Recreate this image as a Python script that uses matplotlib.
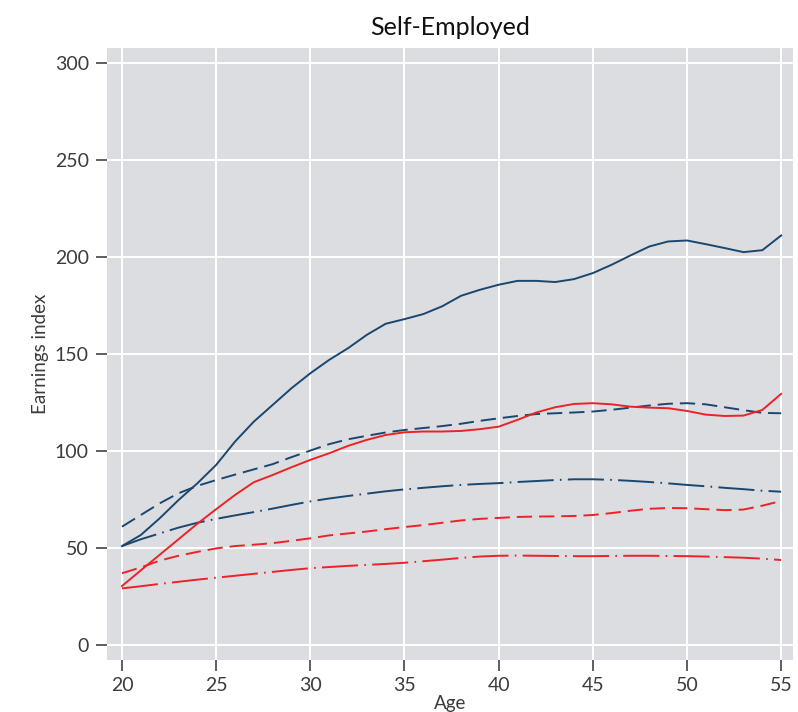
import matplotlib.pyplot as plt
import numpy as np

plt.rcParams['font.family'] = ['Lato', 'DejaVu Sans']
plt.rcParams['lines.scale_dashes'] = False

age = np.arange(20, 56)

# navy series
navy_solid = [51.0, 56.7, 65.3, 74.7, 83.3, 92.8, 104.8, 115.1, 123.7, 132.3,
              140.0, 146.9, 152.9, 159.8, 165.5, 167.9, 170.5, 174.5, 179.9, 183.0,
              185.6, 187.6, 187.6, 187.0, 188.5, 191.6, 195.9, 200.7, 205.3, 207.9,
              208.4, 206.5, 204.5, 202.4, 203.4, 211.0]
navy_dash = [61.0, 67.0, 73.0, 78.2, 82.0, 85.0, 87.8, 90.5, 93.2, 96.8,
             100.2, 103.5, 106.0, 107.8, 109.5, 110.8, 111.8, 112.8, 114.0, 115.5,
             116.8, 118.0, 119.0, 119.4, 119.8, 120.3, 121.2, 122.3, 123.4, 124.3,
             124.6, 124.0, 122.5, 121.0, 119.6, 119.4]
navy_dashdot = [51.0, 54.5, 57.5, 60.5, 63.0, 65.0, 66.8, 68.5, 70.3, 72.2,
                74.0, 75.5, 76.8, 78.0, 79.2, 80.2, 81.0, 81.8, 82.5, 83.0,
                83.4, 84.0, 84.5, 85.0, 85.4, 85.4, 85.1, 84.6, 84.0, 83.3,
                82.5, 81.8, 81.0, 80.3, 79.5, 79.0]

# red series
red_solid = [30.4, 38.5, 46.5, 54.5, 62.5, 70.0, 77.3, 83.9, 87.6, 91.6,
             95.4, 98.8, 102.6, 105.7, 108.2, 109.6, 110.0, 110.0, 110.3, 111.2,
             112.5, 116.0, 119.8, 122.5, 124.2, 124.6, 124.0, 122.8, 122.3, 122.0,
             120.6, 118.7, 118.0, 118.2, 121.1, 129.4]
red_dash = [37.0, 40.0, 43.5, 46.0, 48.0, 49.8, 51.0, 51.7, 52.5, 53.7,
            55.0, 56.5, 57.5, 58.5, 59.7, 60.8, 61.8, 63.0, 64.2, 65.0,
            65.5, 66.0, 66.2, 66.3, 66.5, 67.0, 68.0, 69.2, 70.2, 70.6,
            70.5, 70.0, 69.5, 69.8, 71.8, 74.2]
red_dashdot = [29.2, 30.3, 31.5, 32.6, 33.7, 34.7, 35.7, 36.7, 37.7, 38.7,
               39.6, 40.2, 40.8, 41.3, 41.8, 42.4, 43.2, 44.0, 44.9, 45.6,
               46.0, 46.1, 46.0, 45.9, 45.8, 45.8, 45.9, 46.0, 46.0, 45.9,
               45.8, 45.6, 45.3, 45.0, 44.5, 43.8]

NAVY = "#1a476f"
RED = "#ec2227"
BG = "#dcdde0"
TXT = "#3c3c3c"

DASH = (0, (11, 5))
DASHDOT = (0, (26, 4.5, 1.2, 4.5))

fig = plt.figure(figsize=(7.98, 7.12), dpi=100)
ax = fig.add_axes([0.134, 0.073, 0.860, 0.860])
ax.set_facecolor(BG)

lw = 1.4
ax.plot(age, navy_solid, color=NAVY, lw=lw)
ax.plot(age, navy_dash, color=NAVY, lw=lw, linestyle=DASH)
ax.plot(age, navy_dashdot, color=NAVY, lw=lw, linestyle=DASHDOT)
ax.plot(age, red_solid, color=RED, lw=lw)
ax.plot(age, red_dash, color=RED, lw=lw, linestyle=DASH)
ax.plot(age, red_dashdot, color=RED, lw=lw, linestyle=DASHDOT)

ax.set_xlim(19.2, 55.64)
ax.set_ylim(-7.7, 307.7)
ax.set_xticks(np.arange(20, 56, 5))
ax.set_yticks(np.arange(0, 301, 50))
ax.grid(True, color="white", lw=1.4)
ax.set_axisbelow(True)
for s in ax.spines.values():
    s.set_visible(False)

ax.tick_params(axis="both", length=8, width=1.1, color="#333333",
               labelsize=14, labelcolor=TXT)
ax.tick_params(axis="x", pad=4)
ax.tick_params(axis="y", pad=5)

ax.set_ylabel("Earnings index", fontsize=13.5, color=TXT, labelpad=4)
ax.set_xlabel("Age", fontsize=13.5, color=TXT, labelpad=1)
ax.set_title("Self-Employed", fontsize=18, color="#111111", pad=9)

fig.savefig("out.png", dpi=100)
